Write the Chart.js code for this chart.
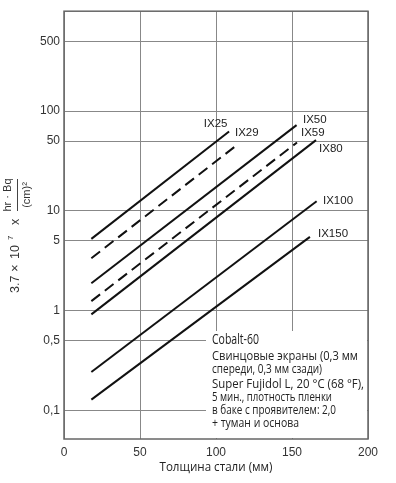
<!DOCTYPE html>
<html><head><meta charset="utf-8">
<script src="https://cdn.jsdelivr.net/npm/chart.js@4/dist/chart.umd.min.js"></script>
<style>html,body{margin:0;padding:0;background:#fff}#wrap{width:396px;height:483px}</style>
</head><body><div id="wrap"><canvas id="c" width="396" height="483"></canvas></div>
<script>
// ---- data ----
const seriesNames      = ['IX25', 'IX29', 'IX50', 'IX59', 'IX80', 'IX100', 'IX150'];
const startThickness   = [18, 18, 18, 18, 18, 18, 18];          // mm
const startExposure    = [5.25, 3.36, 1.89, 1.25, 0.92, 0.244, 0.129];
const endThickness     = [108.6, 115, 153, 153.3, 165.8, 166.2, 161.8];
const endExposure      = [62.4, 47.3, 72.3, 48.5, 51.2, 12.5, 5.5];
const labelThickness   = [92, 112.5, 157.2, 155.9, 167.8, 170.4, 167.1];
const labelExposure    = [74, 60, 81, 60, 42, 12.7, 5.9];
const yTickValues = [0.1, 0.5, 1, 5, 10, 50, 100, 500];
const yTickLabels = ['0,1', '0,5', '1', '5', '10', '50', '100', '500'];
const xTickValues = [0, 50, 100, 150, 200];
const xTickLabels = ['0', '50', '100', '150', '200'];
const xAxisTitle = 'Толщина стали (мм)';
const noteTitle = 'Cobalt-60';
const noteLines = [
  'Свинцовые экраны (0,3 мм',
  'спереди, 0,3 мм сзади)',
  'Super Fujidol L, 20 °C (68 °F),',
  '5 мин., плотность пленки',
  'в баке с проявителем: 2,0',
  '+ туман и основа'
];
const dashedSeries = ['IX29', 'IX59'];

const datasets = seriesNames.map((name, i) => ({
  label: name,
  data: [{x: startThickness[i], y: startExposure[i]}, {x: endThickness[i], y: endExposure[i]}],
  borderColor: '#111',
  borderWidth: 2,
  borderDash: dashedSeries.includes(name) ? [11, 6] : [],
  pointRadius: 0,
  fill: false,
  tension: 0
}));

const decor = {
  id: 'decor',
  beforeDatasetsDraw(chart) {
    const {ctx, chartArea: a} = chart;
    ctx.save();
    ctx.fillStyle = '#fff';
    ctx.fillRect(206, 331, a.right - 206 - 1, a.bottom - 331 - 1);
    ctx.strokeStyle = '#666';
    ctx.lineWidth = 1.5;
    ctx.strokeRect(a.left, a.top, a.right - a.left, a.bottom - a.top);
    ctx.restore();
  },
  afterDatasetsDraw(chart) {
    const {ctx, scales: {x, y}} = chart;
    ctx.save();
    ctx.fillStyle = '#222';
    ctx.font = '11.5px "Liberation Sans", Arial, sans-serif';
    ctx.textAlign = 'left';
    ctx.textBaseline = 'middle';
    seriesNames.forEach((n, i) => {
      ctx.fillText(n, x.getPixelForValue(labelThickness[i]), y.getPixelForValue(labelExposure[i]));
    });
    // note
    ctx.fillStyle = '#222';
    ctx.font = '14px "Open Sans", sans-serif';
    ctx.fillText(noteTitle, 212, 340, 47);
    ctx.font = '12px "Open Sans", sans-serif';
    const ys = [357, 370, 385, 398, 411, 424];
    const ws = [146, 110, 152, 120, 124, 87];
    noteLines.forEach((t, i) => ctx.fillText(t, 212, ys[i], ws[i]));
    // x title
    ctx.font = '13px "Open Sans", sans-serif';
    ctx.textAlign = 'center';
    ctx.fillText(xAxisTitle, 216, 467, 113);
    // y title (rotated)
    const vt = (s, cx, yStart, font, align) => {
      ctx.save();
      ctx.translate(cx, yStart);
      ctx.rotate(-Math.PI / 2);
      ctx.font = font;
      ctx.textAlign = align || 'left';
      ctx.textBaseline = 'middle';
      ctx.fillText(s, 0, 0);
      ctx.restore();
    };
    ctx.fillStyle = '#333';
    const f = '12.5px "Liberation Sans", Arial, sans-serif';
    vt('3.7', 16, 293, f);
    vt('×', 16, 268, f, 'center');
    vt('10', 16, 259, f);
    vt('7', 11, 240, '8px "Liberation Sans", Arial, sans-serif');
    vt('x', 16, 225, f);
    vt('hr · Bq', 8, 195, '11px "Liberation Sans", Arial, sans-serif', 'center');
    vt('(cm)²', 27, 195, '11px "Liberation Sans", Arial, sans-serif', 'center');
    ctx.strokeStyle = '#444';
    ctx.lineWidth = 1;
    ctx.beginPath();
    ctx.moveTo(17.5, 179); ctx.lineTo(17.5, 211);
    ctx.stroke();
    ctx.restore();
  }
};

new Chart(document.getElementById('c'), {
  type: 'line',
  data: {datasets},
  plugins: [decor],
  options: {
    responsive: false,
    animation: false,
    devicePixelRatio: 1,
    layout: {padding: {left: 0, right: 28, top: 10, bottom: 0}},
    plugins: {legend: {display: false}, tooltip: {enabled: false}},
    scales: {
      x: {
        type: 'linear', min: 0, max: 200, bounds: 'data',
        afterBuildTicks: s => { s.ticks = xTickValues.map(v => ({value: v})); },
        afterFit: s => { s.height = 44; },
        grid: {color: '#888', lineWidth: 1, drawTicks: false},
        border: {display: false},
        ticks: {
          autoSkip: false, padding: 6, color: '#333',
          font: {family: '"Liberation Sans", Arial, sans-serif', size: 12},
          callback: v => xTickLabels[xTickValues.indexOf(v)]
        }
      },
      y: {
        type: 'logarithmic', min: 0.052, max: 1000, bounds: 'data',
        afterBuildTicks: s => { s.ticks = yTickValues.map(v => ({value: v})); },
        afterFit: s => { s.width = 64; },
        grid: {color: '#888', lineWidth: 1, drawTicks: false},
        border: {display: false},
        ticks: {
          autoSkip: false, padding: 4, color: '#333',
          font: {family: '"Liberation Sans", Arial, sans-serif', size: 12},
          callback: v => yTickLabels[yTickValues.indexOf(v)]
        }
      }
    }
  }
});
</script></body></html>
